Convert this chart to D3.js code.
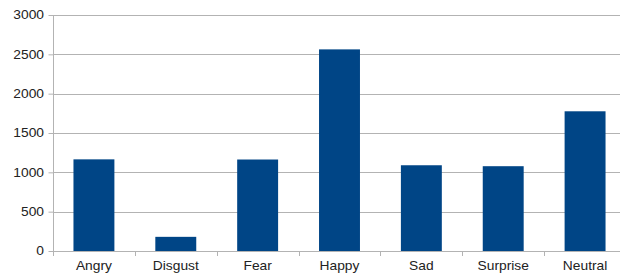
<!DOCTYPE html>
<html>
<head>
<meta charset="utf-8">
<script src="https://cdn.jsdelivr.net/npm/d3@7"></script>
<style>
  body { margin: 0; background: #fff; }
  svg { display: block; }
  text { font-family: "Liberation Sans", Arial, sans-serif; }
</style>
</head>
<body>
<div id="chart"></div>
<script>
var categories = ["Angry", "Disgust", "Fear", "Happy", "Sad", "Surprise", "Neutral"];
var counts = [1165, 180, 1163, 2563, 1090, 1078, 1776];
var yTicks = [0, 500, 1000, 1500, 2000, 2500, 3000];

var w = 620;
var h = 278;
var plotLeft = 53, plotRight = 626, plotTop = 15, plotBottom = 251;
var stretch = 1.15; // labels in the picture look a bit wide

var svg = d3.select("#chart")
  .append("svg")
  .attr("width", w)
  .attr("height", h);

var xScale = d3.scaleBand()
  .domain(categories)
  .range([plotLeft, plotRight])
  .paddingInner(0.5)
  .paddingOuter(0.25);

var xBand = d3.scaleBand()
  .domain(categories)
  .range([plotLeft, plotRight]);

var yScale = d3.scaleLinear()
  .domain([0, 3000])
  .range([plotBottom, plotTop]);

// gridlines
svg.append("g")
  .selectAll("line")
  .data(yTicks)
  .enter()
  .append("line")
  .attr("x1", plotLeft)
  .attr("x2", plotRight)
  .attr("y1", function(d) { return Math.round(yScale(d)) + 0.5; })
  .attr("y2", function(d) { return Math.round(yScale(d)) + 0.5; })
  .attr("stroke", "#b3b3b3")
  .attr("stroke-width", 1);

// bars
svg.selectAll("rect.bar")
  .data(categories)
  .enter()
  .append("rect")
  .attr("class", "bar")
  .attr("x", function(d) { return xScale(d); })
  .attr("width", xScale.bandwidth())
  .attr("y", function(d, i) { return yScale(counts[i]); })
  .attr("height", function(d, i) { return yScale(0) - yScale(counts[i]); })
  .attr("fill", "#004586");

// y axis
var yAxis = svg.append("g")
  .attr("transform", "translate(" + (plotLeft + 0.5) + ",0)")
  .call(d3.axisLeft(yScale).tickValues(yTicks).tickFormat(d3.format("d")).tickSize(5).tickPadding(4));
yAxis.select(".domain").attr("stroke", "#b3b3b3").attr("d", "M0," + plotTop + "V" + plotBottom);
yAxis.selectAll(".tick line").attr("stroke", "#b3b3b3");
yAxis.selectAll(".tick text")
  .attr("fill", "#222")
  .attr("font-size", "12px")
  .attr("x", -9.5 / stretch)
  .attr("transform", "scale(" + stretch + ",1)")
  .style("font-family", "Liberation Sans, Arial, sans-serif");

// x axis
var xAxis = svg.append("g")
  .attr("transform", "translate(0," + (plotBottom + 0.5) + ")")
  .call(d3.axisBottom(xBand).tickSize(0).tickPadding(10));
xAxis.select(".domain").remove();
xAxis.selectAll(".tick text")
  .attr("fill", "#222")
  .attr("font-size", "12px")
  .attr("transform", "scale(" + stretch + ",1)")
  .style("font-family", "Liberation Sans, Arial, sans-serif");

// tick marks between categories
svg.append("g")
  .selectAll("line")
  .data(categories)
  .enter()
  .append("line")
  .attr("x1", function(d) { return Math.round(xBand(d)) + 0.5; })
  .attr("x2", function(d) { return Math.round(xBand(d)) + 0.5; })
  .attr("y1", plotBottom)
  .attr("y2", plotBottom + 5)
  .attr("stroke", "#b3b3b3");
</script>
</body>
</html>
